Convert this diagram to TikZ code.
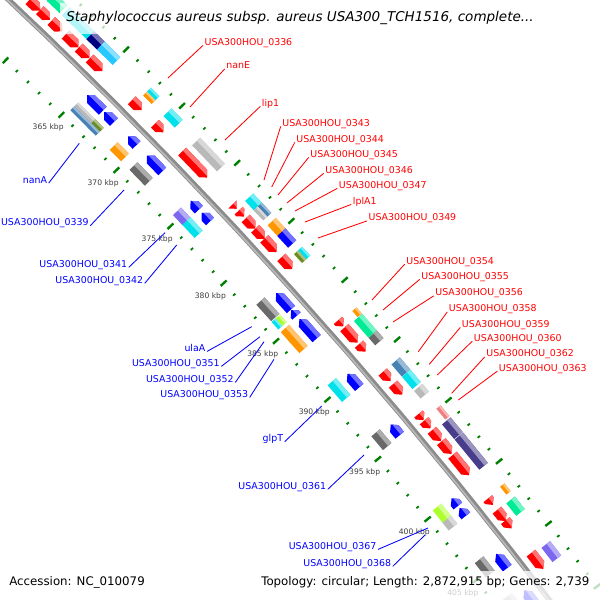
\documentclass[tikz,border=0pt]{standalone}
\usepackage{fontspec}
\setmainfont{DejaVu Sans}
\definecolor{cdsred}{RGB}{255,0,0}
\definecolor{cdsblue}{RGB}{0,0,255}
\definecolor{cogcyan}{RGB}{0,225,235}
\definecolor{cogorange}{RGB}{255,150,0}
\definecolor{coggrey}{RGB}{105,105,105}
\definecolor{coglgrey}{RGB}{185,185,185}
\definecolor{cogsteel}{RGB}{70,130,180}
\definecolor{cogolive}{RGB}{107,142,35}
\definecolor{cognavy}{RGB}{0,0,128}
\definecolor{cogsky}{RGB}{40,200,255}
\definecolor{cogmint}{RGB}{0,235,150}
\definecolor{cogslate}{RGB}{123,104,238}
\definecolor{cogdslate}{RGB}{72,61,139}
\definecolor{cogpink}{RGB}{240,128,128}
\definecolor{coglime}{RGB}{173,255,47}
\definecolor{tickgreen}{RGB}{0,128,0}
\definecolor{kbpgrey}{RGB}{60,60,60}
% gene shape: [width] x y length offset colour kind(f/r/b)
\def\gfwd{f}\def\grev{r}
\newcommand\gene[7][11]{%
  \pgfmathsetmacro\ga{atan2(#3-3636,#2+3423)}%
  \pgfmathsetmacro\gr{5000+#5}%
  \pgfmathsetmacro\gt{-90-(\ga)}%
  \pgfmathsetmacro\gl{#4/2}%
  \pgfmathsetmacro\gw{#1/2}%
  \pgfmathsetmacro\gp{min(#1/2,#4)}%
  \pgfmathsetmacro\gq{\gl-\gp}%
  \pgfmathsetmacro\gqn{-(\gq)}%
  \def\gk{#7}%
  \ifx\gk\gfwd\def\gshape{(-\gl,-\gw) -- (\gq,-\gw) -- (\gl,0) -- (\gq,\gw) -- (-\gl,\gw) -- cycle}%
  \else\ifx\gk\grev\def\gshape{(\gl,-\gw) -- (\gqn,-\gw) -- (-\gl,0) -- (\gqn,\gw) -- (\gl,\gw) -- cycle}%
  \else\def\gshape{(-\gl,-\gw) rectangle (\gl,\gw)}\fi\fi
  \begin{scope}[shift={(-3423,3636)}]
  \begin{scope}[shift={(\ga:\gr)},rotate=\gt]
    \fill[#6] \gshape;
    \begin{scope}
      \clip \gshape;
      \fill[#6!55!white] (-\gl-1,-\gw-1) rectangle (\gl+1,-0.2*\gw);
    \end{scope}
  \end{scope}\end{scope}}
\begin{document}
\begin{tikzpicture}[x=0.025cm,y=-0.025cm]
\tikzset{backbone/.style={line width=3.8pt,draw=gray!90}}
\tikzset{minortick/.style={tickgreen,line width=1.3pt}}
\tikzset{majortick/.style={tickgreen,line width=1.7pt}}
\tikzset{kbp/.style={font=\fontsize{5.4}{6}\selectfont,text=kbpgrey,inner sep=0pt,anchor=north east}}
\tikzset{rlab/.style={font=\fontsize{6.7}{8}\selectfont,text=red,inner sep=1pt,anchor=base west}}
\tikzset{llab/.style={font=\fontsize{6.7}{8}\selectfont,text=blue,inner sep=1pt,anchor=base east}}
\tikzset{rlead/.style={red,line width=0.6pt}}
\tikzset{llead/.style={blue,line width=0.6pt}}
\tikzset{legend/.style={font=\fontsize{8.4}{10}\selectfont,inner sep=0pt,anchor=base west}}
\useasboundingbox (0,0) rectangle (600,600);
\clip (0,0) rectangle (600,600);
\fill[white] (0,0) rectangle (600,600);
\coordinate (C) at (-3423,3636);
% backbone
\draw[backbone] plot[domain=-47.6:-36.2,samples=60] ({-3423+5000*cos(\x)},{3636+5000*sin(\x)});
\draw[gray!55,line width=1.2pt] plot[domain=-47.6:-36.2,samples=60] ({-3423+4999*cos(\x)},{3636+4999*sin(\x)});
% ticks
\foreach \k in {355,...,412}{
  \pgfmathsetmacro\ka{-44.85+(\k-367.5)*0.18037}
  \pgfmathtruncatemacro\km{mod(\k,5)}
  \ifnum\km=0
    \draw[majortick] (C) ++(\ka:4950) -- ++(\ka:8);
    \draw[majortick] (C) ++(\ka:5042) -- ++(\ka:8);
  \else
    \draw[minortick] (C) ++(\ka:4952.5) -- ++(\ka:3);
    \draw[minortick] (C) ++(\ka:5044.5) -- ++(\ka:3);
  \fi}
\foreach \k in {365,370,...,405}{
  \pgfmathsetmacro\ka{-44.85+(\k-367.5)*0.18037}
  \path (C) ++(\ka:4954) ++(2.5,9) node[kbp] (k\k) {\k\ kbp};}
% forward strand CDS
\foreach \x/\y/\l in {35/5/15,46/14/14,57/26/15,72/41/18,84/53/15,97/64/18,137/105/14,159/128/12,
  194/165/36,233/208/6,241/214/8,250/224/14,261/233/14,272/244/18,286/264/16,340/324/8,350/336/20,
  361/349/10,385/378/12,397/390/14,420/418/8,428/424/10,436/436/14,446/448/16,461/465/26,490/502/8,
  502/515/14,509/524/10,537/561/20}
  {\gene{\x}{\y}{\l}{14}{cdsred}{f}}
% reverse strand CDS
\foreach \x/\y/\l in {96/102/22,110/116/14,133/140/12,155/163/22,195/205/12,206/217/12,285/300/22,
  296/311/8,309/328/26,354/380/18,395/430/14,456/501/10,464/511/10,503/560/18,530/596/16}
  {\gene{\x}{\y}{\l}{-14}{cdsblue}{r}}
% forward COG
\foreach \x/\y/\l/\c in {58/2/18/cogmint,80/22/35/cogcyan,97/40/16/cognavy,110/52/22/cogsky,
  174/117/16/cogcyan,208/155/36/coglgrey,254/205/18/cogcyan,278/228/18/cogorange,287/238/16/cdsblue,
  365/326/22/cogmint,376/338/10/coggrey,402/366/16/cogsteel,413/378/16/cogcyan,424/389/10/coglgrey,
  452.6/428/19/cogdslate,472/450.5/39/cogdslate,517/505/16/cogmint,552/551/18/cogslate}
  {\gene{\x}{\y}{\l}{31}{\c}{b}}
\foreach \x/\y/\l/\c/\d in {147/100/12/cogorange/28.2,147/100/12/cogcyan/33.8,
  262/212/14/cogsteel/33.8,262/212/14/coglgrey/28.2,302/255/12/cogcyan/33.8,302/255/12/cogolive/28.2,
  355/314/8/cogorange/33.8,441/414/14/cogpink/33.8,504/490/10/cogorange/33.8}
  {\gene[5.5]{\x}{\y}{\l}{\d}{\c}{b}}
% reverse COG
\foreach \x/\y/\l/\c in {119/152/16/cogorange,141/174/22/coggrey,181/217/14/cogslate,192/228/18/cogcyan,
  267/310/22/coggrey,293/340/28/cogorange,339/390/22/cogcyan,381/440/18/coggrey,441/514/16/coglime,
  450/523/10/coglgrey,487/565/18/coggrey,514/600/14/coglgrey}
  {\gene{\x}{\y}{\l}{-31}{\c}{b}}
\foreach \x/\y/\l/\c/\d in {84/118/30/coglgrey/-28.2,84/118/30/cogsteel/-33.8,
  95/128/12/cogolive/-28.2,95/128/12/cogsteel/-33.8,278/323/10/cogcyan/-33.8,278/323/10/coglime/-28.2}
  {\gene[5.5]{\x}{\y}{\l}{\d}{\c}{b}}
% right labels
\foreach \n/\t/\x/\y/\sx/\sy in {336/USA300HOU\_0336/205/42/168/78,nanE/nanE/226.7/65.5/190/107,
  lip/lip1/262.3/103/225/140,343/USA300HOU\_0343/282.7/123/264/180,344/USA300HOU\_0344/296.7/139/271.7/187,
  345/USA300HOU\_0345/310.7/154/278/195,346/USA300HOU\_0346/325.7/170/287/203,
  347/USA300HOU\_0347/339.3/185/295/211,lpl/lplA1/353.3/201/305/222,349/USA300HOU\_0349/369/217.5/318/238,
  354/USA300HOU\_0354/406.7/260.8/372/300,355/USA300HOU\_0355/421.7/276/383/310,
  356/USA300HOU\_0356/435.7/292.5/393/322,358/USA300HOU\_0358/449.3/308.5/418.3/351.7,
  359/USA300HOU\_0359/462.3/324/429.3/364.3,360/USA300HOU\_0360/474.3/337.8/437.3/375,
  362/USA300HOU\_0362/486.7/353.5/451.7/393.3,363/USA300HOU\_0363/499.3/367.8/458.3/400}
  {\coordinate (a\n) at (\sx,\sy);
   \node[rlab] (r\n) at (\x-2,\y+3.4) {\t};
   \draw[rlead] (a\n) -- (r\n.base west);}
% left labels
\foreach \n/\t/\x/\y/\sx/\sy in {nanA/nanA/46.7/179.7/79.3/143.3,339/USA300HOU\_0339/88.3/222.3/124/190,
  341/USA300HOU\_0341/126.7/264/165/232.7,342/USA300HOU\_0342/142.7/280/176.7/245,
  ula/ulaA/205/348/251.7/326.7,351/USA300HOU\_0351/219.3/363/260/336.7,
  352/USA300HOU\_0352/233.3/379/264/341.7,353/USA300HOU\_0353/247.7/394/274/359.3,
  glp/glpT/282.7/438.3/321.7/406,361/USA300HOU\_0361/325.7/486/364/455,
  367/USA300HOU\_0367/376/546/428/528,368/USA300HOU\_0368/390.7/563/425/535}
  {\coordinate (b\n) at (\sx,\sy);
   \node[llab] (l\n) at (\x+2,\y+3.4) {\t};
   \draw[llead] (b\n) -- (l\n.base east);}
% title and legend
\fill[white,opacity=0.7] (60,3) rectangle (540,34);
\node[font=\fontsize{9.6}{11}\selectfont\itshape,inner sep=0pt] (title) at (300,18)
  {Staphylococcus aureus subsp. aureus USA300\_TCH1516, complete...};
\fill[white,opacity=0.75] (3,571) rectangle (150,600);
\fill[white,opacity=0.75] (255,571) rectangle (600,600);
\node[legend] (acc) at (9,585.3) {Accession: NC\_010079};
\node[legend] (topo) at (261,585.3) {Topology: circular; Length: 2,872,915 bp; Genes: 2,739};
\end{tikzpicture}
\end{document}
